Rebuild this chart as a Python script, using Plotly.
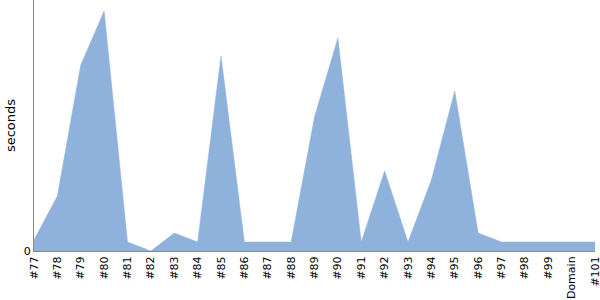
import plotly.graph_objects as go

categories = ["#77", "#78", "#79", "#80", "#81", "#82", "#83", "#84", "#85", "#86",
              "#87", "#88", "#89", "#90", "#91", "#92", "#93", "#94", "#95", "#96",
              "#97", "#98", "#99", "Domain", "#101"]
seconds = [11, 55, 186, 240, 9, 0, 18, 9, 195, 9,
           9, 9, 134, 213, 9, 80, 9, 71, 160, 18,
           9, 9, 9, 9, 9]

fig = go.Figure(go.Scatter(
    x=categories, y=seconds, mode="lines", fill="tozeroy",
    fillcolor="#8fb2dc", line=dict(color="#8fb2dc", width=0.5),
    hoverinfo="skip",
))

fig.update_layout(
    width=600, height=300,
    margin=dict(l=34, r=5, t=0, b=49),
    paper_bgcolor="white", plot_bgcolor="white",
    showlegend=False,
    font=dict(family="DejaVu Sans", size=11, color="black"),
)
fig.update_xaxes(
    type="category", range=[0, len(categories) - 1],
    tickangle=-90, showgrid=False, zeroline=False,
    showline=True, linecolor="#888888", linewidth=1,
    ticks="", tickfont=dict(size=11), automargin=False,
)
fig.update_yaxes(
    range=[0, 251], tickvals=[0], ticktext=["0"],
    showgrid=False, zeroline=False,
    showline=True, linecolor="#888888", linewidth=1,
    ticks="", title=dict(text="seconds", font=dict(size=13), standoff=5),
    tickfont=dict(size=11),
)

fig.write_html("out.html")
